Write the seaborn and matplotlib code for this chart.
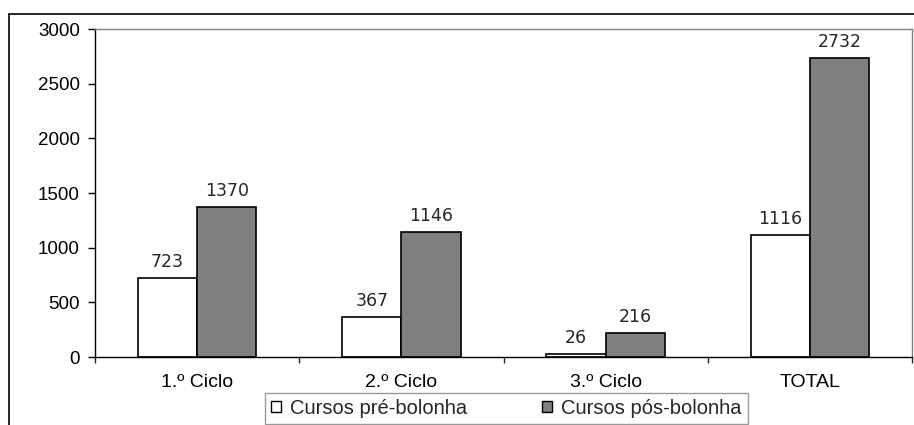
import pandas as pd
import matplotlib.pyplot as plt
import seaborn as sns
from matplotlib.lines import Line2D

categorias = ['1.º Ciclo', '2.º Ciclo', '3.º Ciclo', 'TOTAL']
pre_bolonha = [723, 367, 26, 1116]
pos_bolonha = [1370, 1146, 216, 2732]
series = ['Cursos pré-bolonha', 'Cursos pós-bolonha']

df = pd.DataFrame({
    'categoria': categorias * 2,
    'valor': pre_bolonha + pos_bolonha,
    'serie': [series[0]] * 4 + [series[1]] * 4,
})

sns.set_style('white')
plt.rcParams['font.family'] = ['Liberation Sans', 'DejaVu Sans']

fig = plt.figure(figsize=(9.14, 4.25), dpi=100)
ax = fig.add_axes([95 / 914, 1 - 357 / 425, 817 / 914, 328 / 425])

sns.barplot(data=df, x='categoria', y='valor', hue='serie', order=categorias,
            hue_order=series, palette=['white', '#808080'], width=0.58,
            edgecolor='black', linewidth=1.2, saturation=1, ax=ax, legend=False)

for cont in ax.containers:
    ax.bar_label(cont, padding=5, fontsize=12.5, family='DejaVu Sans')

ax.set_ylim(0, 3000)
ax.set_yticks(range(0, 3001, 500))
ax.set_xlim(-0.5, 3.5)
ax.set_xlabel('')
ax.set_ylabel('')
ax.tick_params(axis='y', labelsize=13.5, colors='black', length=5, width=1,
               direction='out', left=True, pad=6)
ax.tick_params(axis='x', labelsize=14, colors='black', length=0, pad=12)
ax.set_xticks([-0.5, 0.5, 1.5, 2.5, 3.5], minor=True)
ax.tick_params(axis='x', which='minor', length=4, width=1, direction='out', bottom=True)

for s in ['left', 'bottom']:
    ax.spines[s].set_color('black')
    ax.spines[s].set_linewidth(1)
for s in ['top', 'right']:
    ax.spines[s].set_color('#808080')
    ax.spines[s].set_linewidth(1)

handles = [plt.Rectangle((0, 0), 1, 1, facecolor=c, edgecolor='black', linewidth=1)
           for c in ['white', '#808080']]
leg = fig.legend(handles, series, loc='upper left',
                 bbox_to_anchor=(265 / 914, 1 - 397 / 425, 483 / 914, 0.01), mode='expand',
                 ncol=2, fontsize=14.5, frameon=True, fancybox=False,
                 handlelength=0.5, handleheight=0.5, handletextpad=0.45,
                 columnspacing=1.3, borderpad=0.3, borderaxespad=0)
leg.get_frame().set_edgecolor('#808080')
leg.get_frame().set_linewidth(1)

# marco exterior del gráfico
fig.add_artist(Line2D([9 / 914, 1], [1 - 14 / 425, 1 - 14 / 425], color='black', lw=1.2,
                      transform=fig.transFigure))
fig.add_artist(Line2D([9 / 914, 9 / 914], [0, 1 - 14 / 425], color='black', lw=1.2,
                      transform=fig.transFigure))

fig.savefig('out.png', dpi=100)
